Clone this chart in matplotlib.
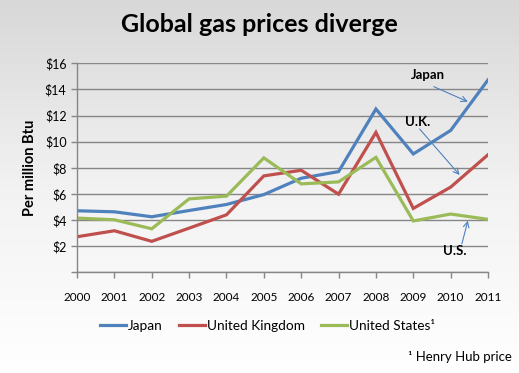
import numpy as np
import matplotlib
matplotlib.use("Agg")
import matplotlib.pyplot as plt

years = list(range(2000, 2012))
japan = [4.71, 4.63, 4.25, 4.73, 5.19, 5.95, 7.20, 7.71, 12.50, 9.06, 10.86, 14.73]
uk = [2.72, 3.18, 2.37, 3.38, 4.40, 7.38, 7.81, 5.98, 10.71, 4.89, 6.52, 9.00]
us = [4.15, 4.02, 3.33, 5.62, 5.83, 8.76, 6.77, 6.92, 8.80, 3.93, 4.46, 4.05]
y_ticks = [0, 2, 4, 6, 8, 10, 12, 14, 16]
y_tick_labels = ["", "$2", "$4", "$6", "$8", "$10", "$12", "$14", "$16"]

plt.rcParams["font.family"] = ["Lato", "DejaVu Sans"]

fig = plt.figure(figsize=(5.19, 3.73), dpi=100)

# grey to white background gradient
bg = fig.add_axes([0, 0, 1, 1], zorder=-10)
grad = np.linspace(0, 1, 256).reshape(-1, 1)
bg.imshow(grad, aspect="auto", cmap=matplotlib.colors.LinearSegmentedColormap.from_list(
    "bg", ["#d8d8d8", "#f2f2f2", "#ffffff"]), extent=[0, 1, 0, 1])
bg.axis("off")

ax = fig.add_axes([0.1484, 0.2700, 0.7919, 0.5603])
ax.patch.set_alpha(0)

ax.plot(years, japan, color="#4F81BD", lw=2.3, label="Japan", solid_joinstyle="miter")
ax.plot(years, uk, color="#C0504D", lw=2.3, label="United Kingdom", solid_joinstyle="miter")
ax.plot(years, us, color="#9BBB59", lw=2.3, label="United States\u00b9", solid_joinstyle="miter")

ax.set_xlim(2000, 2011)
ax.set_ylim(0, 16)
ax.set_xticks(years)
ax.set_xticklabels([str(y) for y in years], fontsize=8.5)
ax.set_yticks(y_ticks)
ax.set_yticklabels(y_tick_labels, fontsize=9)
ax.grid(axis="y", color="#868686", lw=1)
ax.set_axisbelow(True)
for s in ["top", "right"]:
    ax.spines[s].set_visible(False)
for s in ["left", "bottom"]:
    ax.spines[s].set_color("#868686")
    ax.spines[s].set_linewidth(1)
ax.tick_params(axis="both", direction="out", length=4, color="#868686", width=1)
ax.tick_params(axis="x", pad=10)
ax.set_ylabel("Per million Btu", fontsize=10.5, fontweight="bold", labelpad=6)

# annotations
ax.text(2009.39, 15.08, "Japan", fontsize=9.5, fontweight="bold", ha="center", va="center")
ax.text(2009.12, 11.47, "U.K.", fontsize=9.5, fontweight="bold", ha="center", va="center")
ax.text(2010.10, 1.61, "U.S.", fontsize=9.5, fontweight="bold", ha="center", va="center")
arrow = dict(arrowstyle="->", color="#4F81BD", lw=0.8, shrinkA=0, shrinkB=0)
ax.annotate("", xy=(2010.46, 13.06), xytext=(2009.55, 14.21), arrowprops=arrow)
ax.annotate("", xy=(2010.24, 7.45), xytext=(2009.17, 10.97), arrowprops=arrow)
ax.annotate("", xy=(2010.46, 3.95), xytext=(2010.30, 2.17), arrowprops=arrow)

fig.text(0.5, 0.933, "Global gas prices diverge", fontsize=18, fontweight="bold",
         ha="center", va="center")

fig.legend(loc="center", bbox_to_anchor=(0.515, 0.126), ncol=3, frameon=False,
           fontsize=9.8, handlelength=1.9, handletextpad=0.15, columnspacing=1.2)

fig.text(0.987, 0.043, "\u00b9 Henry Hub price", fontsize=9.5, ha="right", va="center")

fig.savefig("out.png", dpi=100)
